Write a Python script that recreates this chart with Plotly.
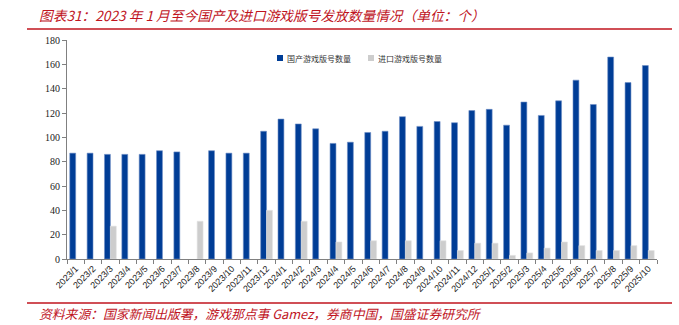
import plotly.graph_objects as go

months = [
    "2023/1", "2023/2", "2023/3", "2023/4", "2023/5", "2023/6", "2023/7", "2023/8",
    "2023/9", "2023/10", "2023/11", "2023/12", "2024/1", "2024/2", "2024/3", "2024/4",
    "2024/5", "2024/6", "2024/7", "2024/8", "2024/9", "2024/10", "2024/11", "2024/12",
    "2025/1", "2025/2", "2025/3", "2025/4", "2025/5", "2025/6", "2025/7", "2025/8",
    "2025/9", "2025/10",
]
domestic = [
    87, 87, 86, 86, 86, 89, 88, None,
    89, 87, 87, 105, 115, 111, 107, 95,
    96, 104, 105, 117, 109, 113, 112, 122,
    123, 110, 129, 118, 130, 147, 127, 166,
    145, 159,
]
imported = [
    None, None, 27, None, None, None, None, 31,
    None, None, None, 40, None, 31, None, 14,
    None, 15, None, 15, None, 15, 7, 13,
    13, 3, 5, 9, 14, 11, 7, 7,
    11, 7,
]
y_ticks = [0, 20, 40, 60, 80, 100, 120, 140, 160, 180]

name_dom = "国产游戏版号数量"
name_imp = "进口游戏版号数量"
title_text = "图表31：2023 年 1 月至今国产及进口游戏版号发放数量情况（单位：个）"
source_text = "资料来源：国家新闻出版署，游戏那点事 Gamez，券商中国，国盛证券研究所"

BLUE = "#003d96"
GREY = "#cdcdcd"
RED = "#c0141e"
CJK = "Noto Sans CJK SC"

fig = go.Figure()
fig.add_trace(go.Bar(x=months, y=domestic, name=name_dom,
                     marker=dict(color=BLUE, line=dict(color="#6f8fc6", width=0.6))))
fig.add_trace(go.Bar(x=months, y=imported, name=name_imp,
                     marker=dict(color=GREY, line=dict(color="#e2e2e2", width=0.6))))

fig.update_layout(
    width=679, height=325,
    margin=dict(l=67, r=22, t=40, b=66),
    paper_bgcolor="white", plot_bgcolor="white",
    barmode="group", bargap=0.32, bargroupgap=0.0,
    showlegend=False,
    font=dict(family="Liberation Sans", color="#222222"),
)
fig.update_xaxes(
    type="category", tickangle=-45,
    tickfont=dict(family="Liberation Sans", size=9, color="#222222"),
    showline=True, linecolor="#808080", linewidth=1,
    ticks="outside", ticklen=4, tickcolor="#808080", tickson="boundaries",
    showgrid=False,
)
fig.update_yaxes(
    range=[0, 180], tickvals=y_ticks,
    tickfont=dict(family="Liberation Serif", size=10, color="#222222"),
    showline=True, linecolor="#808080", linewidth=1,
    ticks="outside", ticklen=4, tickcolor="#808080",
    showgrid=False, zeroline=False,
)

# custom legend: swatches + labels
legend_items = [(277, BLUE, name_dom), (368, GREY, name_imp)]
for x0, col, label in legend_items:
    fig.add_shape(type="rect", xref="paper", yref="paper",
                  x0=(x0 - 67) / 590, x1=(x0 + 6 - 67) / 590,
                  y0=(259 - 61) / 219, y1=(259 - 55) / 219,
                  fillcolor=col, line=dict(width=0))
    fig.add_annotation(text=label, xref="paper", yref="paper",
                       x=(x0 + 8 - 67) / 590, y=(259 - 58) / 219,
                       xanchor="left", yanchor="middle", showarrow=False,
                       font=dict(family=CJK, size=8, color="#333333"))

# header and footer rules
for yy in (29, 303):
    fig.add_shape(type="line", xref="paper", yref="paper",
                  x0=(27 - 67) / 590, x1=(672 - 67) / 590,
                  y0=(259 - yy) / 219, y1=(259 - yy) / 219,
                  line=dict(color=RED, width=1.5))

fig.add_annotation(text="<i>" + title_text + "</i>", xref="paper", yref="paper",
                   x=(37 - 67) / 590, y=(259 - 15) / 219,
                   xanchor="left", yanchor="middle", showarrow=False,
                   font=dict(family=CJK, size=13.7, color=RED))
fig.add_annotation(text="<i>" + source_text + "</i>", xref="paper", yref="paper",
                   x=(37 - 67) / 590, y=(259 - 313) / 219,
                   xanchor="left", yanchor="middle", showarrow=False,
                   font=dict(family=CJK, size=12.8, color=RED))

fig.write_html("out.html")
